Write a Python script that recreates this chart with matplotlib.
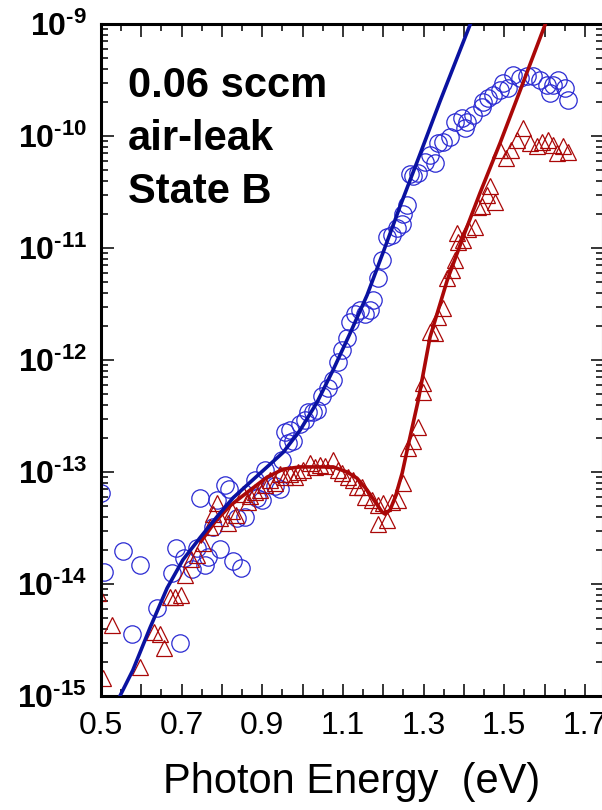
import numpy as np
import matplotlib
matplotlib.use("Agg")
import matplotlib.pyplot as plt
from matplotlib.ticker import FixedLocator, FuncFormatter, LogLocator, NullFormatter

plt.rcParams['font.family'] = ['Liberation Sans', 'DejaVu Sans']
plt.rcParams['mathtext.fontset'] = 'custom'
plt.rcParams['mathtext.rm'] = 'Liberation Sans:bold'
plt.rcParams['mathtext.bf'] = 'Liberation Sans:bold'

# measured points, state B (0.06 sccm air leak)
circ_e = [0.500, 0.507, 0.555, 0.577, 0.597, 0.639, 0.676, 0.686, 0.696, 0.706,
          0.726, 0.738, 0.746, 0.758, 0.766, 0.778, 0.788, 0.795, 0.808, 0.818,
          0.828, 0.837, 0.847, 0.857, 0.882, 0.887, 0.900, 0.907, 0.932, 0.944,
          0.949, 0.957, 0.964, 0.969, 0.976, 0.994, 1.006, 1.014, 1.026, 1.036,
          1.048, 1.063, 1.076, 1.088, 1.098, 1.110, 1.118, 1.130, 1.143, 1.155,
          1.167, 1.175, 1.187, 1.197, 1.210, 1.222, 1.234, 1.247, 1.249, 1.259,
          1.267, 1.274, 1.287, 1.304, 1.316, 1.329, 1.336, 1.349, 1.366, 1.378,
          1.396, 1.403, 1.408, 1.423, 1.445, 1.448, 1.460, 1.473, 1.490, 1.498,
          1.510, 1.522, 1.540, 1.557, 1.572, 1.589, 1.607, 1.614, 1.622, 1.634,
          1.651, 1.659]
circ_s = [6.5e-14, 1.28e-14, 1.97e-14, 3.6e-15, 1.48e-14, 6.1e-15, 1.25e-14, 2.1e-14, 3.0e-15, 1.7e-14,
          1.36e-14, 2.1e-14, 5.9e-14, 1.48e-14, 1.74e-14, 3.2e-14, 5.6e-14, 2.05e-14, 7.7e-14, 7.0e-14,
          1.6e-14, 3.9e-14, 1.39e-14, 4.0e-14, 8.5e-14, 5.9e-14, 5.6e-14, 1.04e-13, 7.5e-14, 7.0e-14,
          1.28e-13, 2.28e-13, 1.8e-13, 2.37e-13, 1.9e-13, 2.7e-13, 2.9e-13, 3.4e-13, 3.4e-13, 3.6e-13,
          4.8e-13, 5.6e-13, 6.6e-13, 9.6e-13, 1.23e-12, 1.57e-12, 2.2e-12, 2.6e-12, 2.8e-12, 2.6e-12,
          2.8e-12, 3.4e-12, 5.4e-12, 7.8e-12, 1.25e-11, 1.3e-11, 1.5e-11, 1.64e-11, 2.0e-11, 2.4e-11,
          4.6e-11, 4.4e-11, 4.7e-11, 5.9e-11, 6.8e-11, 5.7e-11, 8.7e-11, 8.8e-11, 9.8e-11, 1.33e-10,
          1.45e-10, 1.18e-10, 1.33e-10, 1.54e-10, 1.8e-10, 2.0e-10, 2.2e-10, 2.3e-10, 2.6e-10, 3.0e-10,
          2.7e-10, 3.5e-10, 3.3e-10, 3.4e-10, 3.4e-10, 3.16e-10, 2.85e-10, 2.4e-10, 2.85e-10, 3.16e-10,
          2.7e-10, 2.1e-10]

tri_e = [0.493, 0.505, 0.527, 0.597, 0.632, 0.646, 0.656, 0.671, 0.684, 0.699,
         0.708, 0.723, 0.738, 0.753, 0.770, 0.778, 0.788, 0.795, 0.815, 0.825,
         0.835, 0.852, 0.865, 0.870, 0.882, 0.895, 0.907, 0.919, 0.932, 0.944,
         0.957, 0.969, 0.981, 0.989, 1.001, 1.019, 1.031, 1.043, 1.056, 1.076,
         1.088, 1.098, 1.113, 1.125, 1.135, 1.148, 1.155, 1.172, 1.187, 1.187,
         1.200, 1.210, 1.222, 1.237, 1.249, 1.262, 1.274, 1.287, 1.299, 1.299,
         1.316, 1.329, 1.336, 1.349, 1.359, 1.371, 1.378, 1.386, 1.383, 1.398,
         1.411, 1.428, 1.435, 1.445, 1.458, 1.465, 1.478, 1.490, 1.505, 1.517,
         1.532, 1.547, 1.565, 1.582, 1.594, 1.609, 1.622, 1.632, 1.646, 1.659]
tri_s = [8.3e-15, 1.45e-15, 4.3e-15, 1.8e-15, 3.7e-15, 3.6e-15, 2.7e-15, 7.7e-15, 7.7e-15, 8.0e-15,
         1.2e-14, 1.67e-14, 1.8e-14, 2.3e-14, 3.2e-14, 4.2e-14, 5.3e-14, 3.9e-14, 3.5e-14, 4.5e-14,
         4.1e-14, 6.4e-14, 5.4e-14, 6.1e-14, 6.6e-14, 6.9e-14, 7.7e-14, 8.5e-14, 8.0e-14, 9.6e-14,
         9.0e-14, 9.6e-14, 9.0e-14, 1.0e-13, 1.04e-13, 1.2e-13, 1.1e-13, 1.15e-13, 1.13e-13, 1.28e-13,
         1.04e-13, 9.8e-14, 9.0e-14, 8.5e-14, 7.3e-14, 7.3e-14, 6.0e-14, 5.6e-14, 5.1e-14, 3.4e-14,
         5.3e-14, 3.7e-14, 5.4e-14, 5.6e-14, 8.0e-14, 1.64e-13, 1.9e-13, 2.5e-13, 5.2e-13, 6.2e-13,
         1.78e-12, 1.74e-12, 2.4e-12, 2.9e-12, 5.4e-12, 6.4e-12, 7.8e-12, 1.13e-11, 1.36e-11, 1.18e-11,
         1.48e-11, 1.54e-11, 2.3e-11, 2.37e-11, 3.0e-11, 3.6e-11, 2.6e-11, 7.5e-11, 6.4e-11, 7.5e-11,
         9.2e-11, 1.18e-10, 8.7e-11, 8.2e-11, 8.8e-11, 9.2e-11, 8.3e-11, 7.0e-11, 8.2e-11, 7.2e-11]

# fitted curves
fit_b_e = [0.547, 0.579, 0.622, 0.664, 0.703, 0.746, 0.788, 0.828, 0.870, 0.912,
           0.952, 0.994, 1.036, 1.076, 1.118, 1.160, 1.200, 1.242, 1.292, 1.341, 1.416]
fit_b_s = [1.0e-15, 1.7e-15, 4.1e-15, 9.2e-15, 1.64e-14, 2.6e-14, 4.0e-14, 5.9e-14, 8.1e-14, 1.11e-13,
           1.5e-13, 2.37e-13, 4.2e-13, 8.2e-13, 1.74e-12, 3.8e-12, 9.2e-12, 2.37e-11, 7.0e-11, 2.05e-10, 1.0e-9]

fit_r_e = [0.748, 0.783, 0.820, 0.870, 0.912, 0.952, 0.994, 1.036, 1.076, 1.110,
           1.135, 1.160, 1.180, 1.197, 1.205, 1.217, 1.230, 1.247, 1.262, 1.287,
           1.316, 1.359, 1.398, 1.440, 1.490, 1.540, 1.602]
fit_r_s = [2.4e-14, 3.6e-14, 5.0e-14, 6.9e-14, 9.0e-14, 1.06e-13, 1.11e-13, 1.11e-13, 1.11e-13, 1.0e-13,
           8.8e-14, 6.9e-14, 5.4e-14, 4.4e-14, 4.2e-14, 4.6e-14, 6.0e-14, 9.8e-14, 1.74e-13, 4.4e-13,
           1.6e-12, 5.2e-12, 1.25e-11, 3.1e-11, 8.7e-11, 2.58e-10, 1.0e-9]

x_major = [0.5, 0.6, 0.7, 0.8, 0.9, 1.0, 1.1, 1.2, 1.3, 1.4, 1.5, 1.6, 1.7]
x_labeled = ['0.5', '0.7', '0.9', '1.1', '1.3', '1.5', '1.7']

blue_pts = '#2a2ad2'
blue_line = '#0a12a0'
red = '#aa0808'

fig = plt.figure(figsize=(6.02, 8.10), dpi=100)
ax = fig.add_axes([101 / 602, 114 / 810, 502 / 602, 672 / 810])

ax.plot(fit_r_e, fit_r_s, color=red, lw=2.6, zorder=3)
ax.plot(fit_b_e, fit_b_s, color=blue_line, lw=2.6, zorder=4)
ax.plot(circ_e, circ_s, 'o', ms=12.5, mfc='none', mec=blue_pts, mew=0.9, zorder=2)
ax.plot(tri_e, tri_s, '^', ms=12, mfc='none', mec=red, mew=0.9, zorder=2)

ax.set_yscale('log')
ax.set_xlim(0.5, 1.745)
ax.set_ylim(1e-15, 1e-9)

ax.xaxis.set_major_locator(FixedLocator(x_major))
ax.xaxis.set_minor_locator(FixedLocator(np.arange(0.55, 1.75, 0.1)))
ax.xaxis.set_major_formatter(FuncFormatter(
    lambda v, p: ('%.1f' % v) if ('%.1f' % v) in x_labeled else ''))
ax.yaxis.set_major_locator(LogLocator(base=10, numticks=20))
ax.yaxis.set_minor_locator(LogLocator(base=10, subs=np.arange(2, 10), numticks=20))
ax.yaxis.set_minor_formatter(NullFormatter())
ax.yaxis.set_major_formatter(FuncFormatter(
    lambda v, p: '$\\mathbf{10^{\u2010%d}}$' % abs(int(round(np.log10(v))))))

ax.tick_params(which='both', direction='in', top=True, right=True, width=1.1)
ax.tick_params(which='major', length=9)
ax.tick_params(which='minor', length=5)
ax.tick_params(axis='x', which='major', labelsize=23, pad=11)
ax.tick_params(axis='y', which='major', labelsize=23, pad=10)
for sp in ax.spines.values():
    sp.set_linewidth(2.2)

ax.set_xlabel('Photon Energy  (eV)', fontsize=30, labelpad=15)

ax.text(0.054, 0.938, '0.06 sccm\nair-leak\nState B', transform=ax.transAxes,
        fontsize=30, fontweight='bold', va='top', ha='left', linespacing=1.42)

fig.savefig('out.png', dpi=100)
